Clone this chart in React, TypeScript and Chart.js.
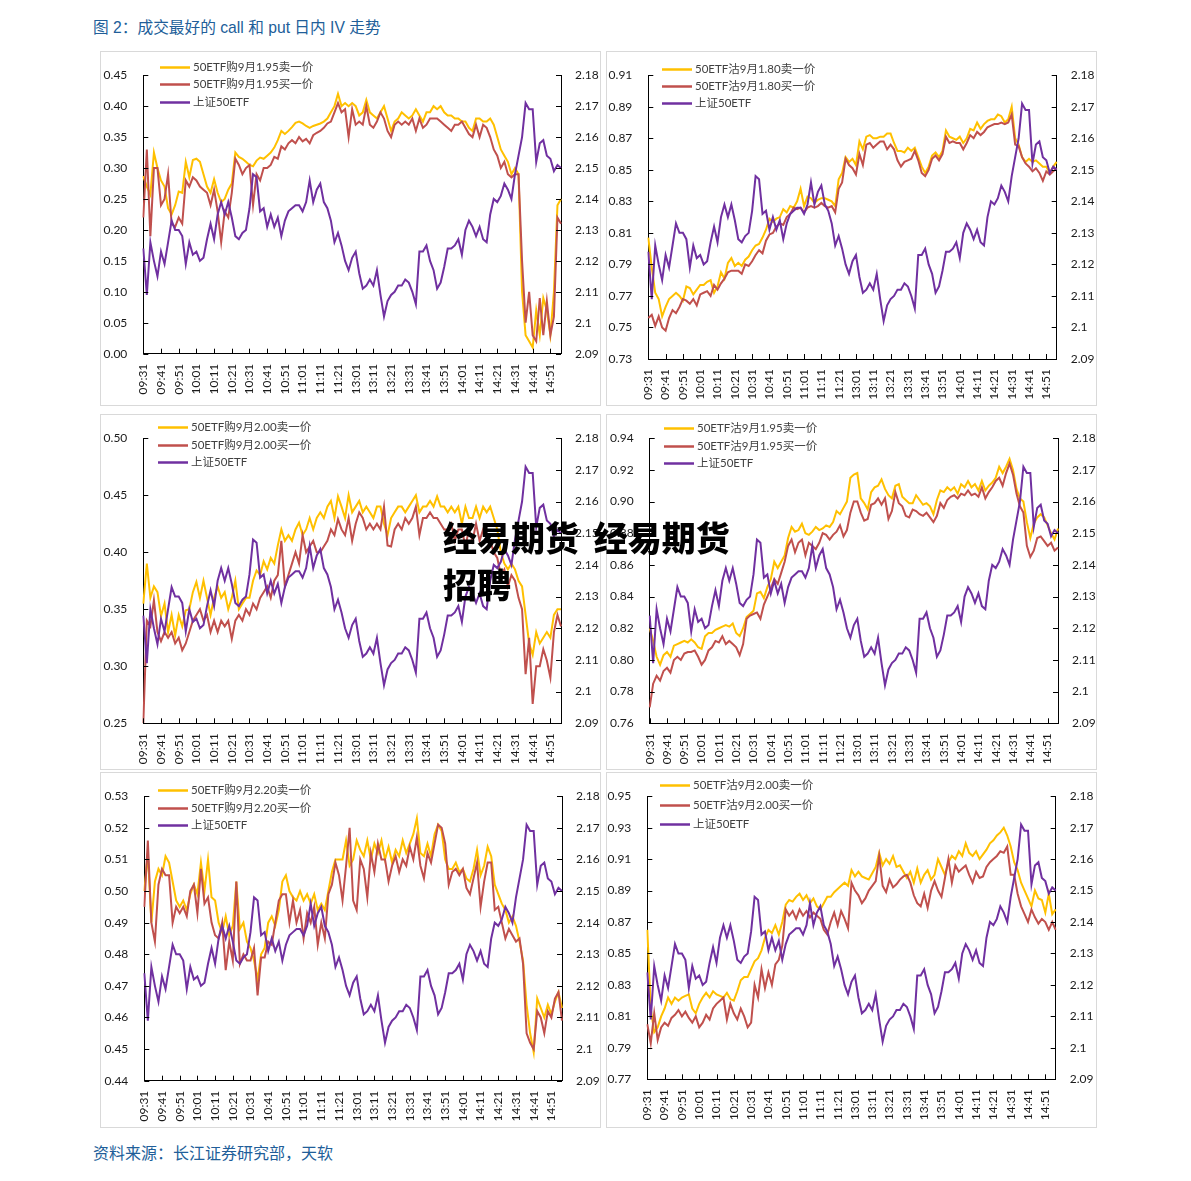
import React, { useEffect, useRef } from "react";
import { Chart, registerables } from "chart.js";
Chart.register(...registerables);

// ---------- data ----------
const tickLabels = ["09:31","09:41","09:51","10:01","10:11","10:21","10:31","10:41","10:51","11:01","11:11","11:21","13:01","13:11","13:21","13:31","13:41","13:51","14:01","14:11","14:21","14:31","14:41","14:51"];

// 上证50ETF, one value per two trading minutes (shared by all panels)
const etf50 = [
  2.124, 2.109, 2.126, 2.120, 2.115, 2.123, 2.119, 2.126, 2.133, 2.130,
  2.130, 2.128, 2.119, 2.126, 2.122, 2.123, 2.120, 2.121, 2.127, 2.132,
  2.127, 2.135, 2.139, 2.135, 2.139, 2.134, 2.128, 2.127, 2.129, 2.130,
  2.137, 2.148, 2.147, 2.136, 2.137, 2.131, 2.135, 2.131, 2.134, 2.128,
  2.133, 2.136, 2.137, 2.138, 2.138, 2.136, 2.139, 2.146, 2.139, 2.143,
  2.145, 2.139, 2.137, 2.133, 2.126, 2.129, 2.125, 2.120, 2.117, 2.121,
  2.123, 2.116, 2.111, 2.112, 2.114, 2.112, 2.117, 2.109, 2.102, 2.107,
  2.109, 2.110, 2.112, 2.112, 2.114, 2.113, 2.110, 2.106, 2.123, 2.123,
  2.125, 2.120, 2.117, 2.111, 2.113, 2.118, 2.124, 2.124, 2.125, 2.127,
  2.122, 2.130, 2.133, 2.131, 2.128, 2.131, 2.127, 2.126, 2.135, 2.140,
  2.139, 2.141, 2.145, 2.143, 2.140, 2.148, 2.154, 2.160, 2.171, 2.169,
  2.169, 2.152, 2.158, 2.159, 2.154, 2.153, 2.149, 2.151, 2.150
];

const p1Sell = [
  0.287, 0.27, 0.257, 0.325, 0.30, 0.28, 0.27, 0.235, 0.225, 0.24,
  0.262, 0.26, 0.31, 0.285, 0.313, 0.315, 0.31, 0.29, 0.27, 0.26,
  0.282, 0.26, 0.245, 0.25, 0.265, 0.275, 0.325, 0.318, 0.315, 0.31,
  0.305, 0.303, 0.312, 0.317, 0.315, 0.32, 0.325, 0.333, 0.345, 0.36,
  0.355, 0.36, 0.366, 0.373, 0.375, 0.372, 0.368, 0.365, 0.368, 0.37,
  0.372, 0.375, 0.38, 0.39, 0.40, 0.42, 0.40, 0.405, 0.40, 0.405,
  0.40, 0.385, 0.39, 0.41, 0.39, 0.385, 0.38, 0.39, 0.40, 0.38,
  0.36, 0.375, 0.38, 0.39, 0.385, 0.38, 0.385, 0.395, 0.385, 0.375,
  0.39, 0.39, 0.40, 0.395, 0.40, 0.39, 0.385, 0.385, 0.38, 0.38,
  0.375, 0.375, 0.365, 0.36, 0.38, 0.38, 0.375, 0.375, 0.38, 0.37,
  0.35, 0.33, 0.32, 0.31, 0.29, 0.30, 0.29, 0.10, 0.03, 0.02,
  0.01, 0.07, 0.03, 0.09, 0.07, 0.03, 0.10, 0.24, 0.25
];
const p1Buy = [
  0.22, 0.33, 0.19, 0.30, 0.30, 0.24, 0.25, 0.29, 0.21, 0.205,
  0.22, 0.21, 0.28, 0.27, 0.285, 0.28, 0.27, 0.265, 0.26, 0.24,
  0.265, 0.23, 0.18, 0.23, 0.22, 0.26, 0.315, 0.305, 0.29, 0.30,
  0.305, 0.24, 0.29, 0.28, 0.30, 0.30, 0.305, 0.318, 0.315, 0.335,
  0.33, 0.34, 0.345, 0.34, 0.35, 0.343, 0.347, 0.34, 0.353, 0.357,
  0.36, 0.365, 0.372, 0.375, 0.39, 0.405, 0.39, 0.395, 0.35, 0.395,
  0.37, 0.375, 0.37, 0.40, 0.37, 0.365, 0.375, 0.39, 0.38, 0.36,
  0.35, 0.37, 0.375, 0.37, 0.375, 0.37, 0.38, 0.36, 0.38, 0.365,
  0.37, 0.38, 0.38, 0.38, 0.375, 0.37, 0.365, 0.36, 0.37, 0.37,
  0.375, 0.365, 0.355, 0.35, 0.37, 0.35, 0.37, 0.365, 0.35, 0.33,
  0.32, 0.30, 0.31, 0.29, 0.285, 0.29, 0.29, 0.15, 0.05, 0.10,
  0.03, 0.02, 0.09, 0.03, 0.085, 0.03, 0.06, 0.22, 0.21
];

const p2Sell = [
  0.807, 0.788, 0.772, 0.768, 0.757, 0.763, 0.768, 0.770, 0.772, 0.770,
  0.767, 0.776, 0.775, 0.771, 0.774, 0.777, 0.777, 0.779, 0.780, 0.772,
  0.776, 0.785, 0.781, 0.791, 0.794, 0.789, 0.791, 0.789, 0.793, 0.795,
  0.799, 0.802, 0.803, 0.807, 0.812, 0.819, 0.817, 0.819, 0.820, 0.825,
  0.823, 0.827, 0.826, 0.830, 0.838, 0.827, 0.833, 0.832, 0.829, 0.831,
  0.832, 0.832, 0.831, 0.830, 0.827, 0.844, 0.848, 0.858, 0.855, 0.857,
  0.853, 0.868, 0.863, 0.871, 0.872, 0.870, 0.870, 0.871, 0.871, 0.873,
  0.873, 0.867, 0.862, 0.862, 0.861, 0.864, 0.862, 0.864, 0.858, 0.852,
  0.848, 0.852, 0.859, 0.861, 0.858, 0.862, 0.875, 0.871, 0.870, 0.869,
  0.871, 0.867, 0.870, 0.876, 0.875, 0.880, 0.876, 0.879, 0.881, 0.882,
  0.882, 0.885, 0.884, 0.880, 0.882, 0.890, 0.870, 0.866, 0.858, 0.855,
  0.857, 0.855, 0.856, 0.854, 0.852, 0.852, 0.848, 0.852, 0.855
];
const p2Buy = [
  0.756, 0.758, 0.751, 0.757, 0.750, 0.748, 0.756, 0.761, 0.759, 0.763,
  0.768, 0.767, 0.765, 0.768, 0.764, 0.771, 0.772, 0.773, 0.770, 0.777,
  0.774, 0.778, 0.781, 0.785, 0.786, 0.786, 0.786, 0.784, 0.790, 0.789,
  0.792, 0.796, 0.799, 0.797, 0.805, 0.809, 0.810, 0.814, 0.816, 0.815,
  0.820, 0.822, 0.826, 0.825, 0.826, 0.823, 0.826, 0.827, 0.826, 0.827,
  0.829, 0.827, 0.826, 0.827, 0.823, 0.838, 0.842, 0.857, 0.853, 0.851,
  0.847, 0.860, 0.853, 0.866, 0.867, 0.864, 0.866, 0.868, 0.868, 0.863,
  0.866, 0.863, 0.856, 0.852, 0.855, 0.856, 0.857, 0.862, 0.856, 0.848,
  0.846, 0.850, 0.857, 0.859, 0.856, 0.860, 0.871, 0.867, 0.868, 0.867,
  0.867, 0.863, 0.867, 0.872, 0.870, 0.874, 0.872, 0.874, 0.877, 0.878,
  0.879, 0.879, 0.880, 0.879, 0.880, 0.885, 0.866, 0.865, 0.858, 0.854,
  0.852, 0.849, 0.851, 0.848, 0.843, 0.849, 0.847, 0.849, 0.851
];

const p3Sell = [
  0.355, 0.39, 0.36, 0.37, 0.365, 0.344, 0.355, 0.33, 0.345, 0.327,
  0.345, 0.335, 0.349, 0.35, 0.365, 0.374, 0.36, 0.375, 0.36, 0.345,
  0.36, 0.37, 0.36, 0.365, 0.35, 0.36, 0.375, 0.35, 0.355, 0.36,
  0.36, 0.375, 0.384, 0.38, 0.392, 0.385, 0.395, 0.39, 0.406, 0.42,
  0.41, 0.415, 0.41, 0.42, 0.426, 0.415, 0.42, 0.43, 0.42, 0.43,
  0.435, 0.43, 0.44, 0.445, 0.43, 0.449, 0.44, 0.43, 0.45, 0.435,
  0.44, 0.445, 0.435, 0.44, 0.435, 0.43, 0.44, 0.44, 0.425, 0.415,
  0.43, 0.435, 0.44, 0.44, 0.435, 0.44, 0.445, 0.45, 0.435, 0.44,
  0.44, 0.445, 0.44, 0.449, 0.44, 0.44, 0.435, 0.44, 0.435, 0.44,
  0.425, 0.44, 0.43, 0.43, 0.44, 0.43, 0.44, 0.435, 0.44, 0.43,
  0.42, 0.40, 0.39, 0.385, 0.39, 0.385, 0.375, 0.37, 0.345, 0.32,
  0.31, 0.33, 0.32, 0.325, 0.33, 0.325, 0.345, 0.35, 0.35
];
const p3Buy = [
  0.25, 0.34, 0.335, 0.358, 0.33, 0.322, 0.33, 0.325, 0.33, 0.32,
  0.325, 0.314, 0.32, 0.33, 0.34, 0.345, 0.35, 0.34, 0.345, 0.33,
  0.34, 0.33, 0.34, 0.335, 0.34, 0.324, 0.34, 0.345, 0.34, 0.35,
  0.345, 0.355, 0.35, 0.36, 0.365, 0.37, 0.36, 0.375, 0.38, 0.41,
  0.37, 0.38, 0.39, 0.40, 0.39, 0.415, 0.40, 0.405, 0.41, 0.40,
  0.40, 0.405, 0.41, 0.42, 0.415, 0.429, 0.42, 0.415, 0.43, 0.41,
  0.425, 0.435, 0.43, 0.42, 0.425, 0.42, 0.425, 0.42, 0.44, 0.406,
  0.405, 0.42, 0.425, 0.42, 0.43, 0.425, 0.43, 0.44, 0.415, 0.43,
  0.43, 0.435, 0.43, 0.43, 0.425, 0.42, 0.42, 0.425, 0.41, 0.42,
  0.42, 0.405, 0.42, 0.41, 0.425, 0.41, 0.42, 0.415, 0.41, 0.40,
  0.395, 0.38, 0.385, 0.37, 0.38, 0.375, 0.36, 0.35, 0.293, 0.325,
  0.267, 0.30, 0.30, 0.315, 0.305, 0.29, 0.33, 0.345, 0.335
];

const p4Sell = [
  0.82, 0.812, 0.802, 0.797, 0.803, 0.805, 0.802, 0.809, 0.81, 0.811,
  0.812, 0.811, 0.813, 0.811, 0.808, 0.807, 0.815, 0.817, 0.817, 0.819,
  0.82, 0.821, 0.822, 0.821, 0.823, 0.817, 0.815, 0.82, 0.827, 0.829,
  0.831, 0.842, 0.843, 0.839, 0.846, 0.851, 0.862, 0.858, 0.862, 0.866,
  0.877, 0.884, 0.881, 0.882, 0.886, 0.88, 0.879, 0.881, 0.884, 0.882,
  0.883, 0.885, 0.884, 0.887, 0.894, 0.892, 0.896, 0.9, 0.915, 0.917,
  0.918, 0.902, 0.899, 0.895, 0.906, 0.909, 0.91, 0.914, 0.908, 0.904,
  0.902, 0.91, 0.911, 0.903, 0.901, 0.899, 0.899, 0.904, 0.901, 0.898,
  0.899, 0.897, 0.892, 0.901, 0.907, 0.906, 0.909, 0.907, 0.909, 0.905,
  0.911, 0.909, 0.913, 0.909, 0.911, 0.907, 0.913, 0.907, 0.91, 0.912,
  0.915, 0.922, 0.918, 0.922, 0.927, 0.92, 0.908, 0.902, 0.9, 0.887,
  0.877, 0.886, 0.89, 0.892, 0.89, 0.885, 0.88, 0.876, 0.883
];
const p4Buy = [
  0.77, 0.785, 0.79, 0.787, 0.793, 0.795, 0.792, 0.80, 0.802, 0.80,
  0.804, 0.805, 0.805, 0.806, 0.802, 0.797, 0.80, 0.806, 0.808, 0.812,
  0.811, 0.815, 0.81, 0.812, 0.81, 0.808, 0.803, 0.81, 0.826, 0.828,
  0.829, 0.83, 0.826, 0.835, 0.84, 0.845, 0.851, 0.848, 0.855, 0.862,
  0.872, 0.876, 0.868, 0.874, 0.876, 0.866, 0.874, 0.872, 0.87, 0.874,
  0.88, 0.879, 0.876, 0.879, 0.881, 0.885, 0.878, 0.882, 0.893, 0.90,
  0.90, 0.893, 0.888, 0.889, 0.898, 0.899, 0.902, 0.898, 0.902, 0.889,
  0.894, 0.906, 0.899, 0.897, 0.891, 0.89, 0.895, 0.894, 0.892, 0.891,
  0.893, 0.89, 0.887, 0.891, 0.899, 0.896, 0.901, 0.903, 0.904, 0.902,
  0.905, 0.904, 0.907, 0.904, 0.905, 0.903, 0.909, 0.902, 0.906, 0.909,
  0.913, 0.915, 0.91, 0.918, 0.924, 0.917, 0.905, 0.897, 0.893, 0.872,
  0.865, 0.869, 0.877, 0.878, 0.875, 0.872, 0.874, 0.869, 0.871
];

const p5Sell = [
  0.50, 0.512, 0.49, 0.503, 0.507, 0.505, 0.511, 0.509, 0.503, 0.497,
  0.495, 0.497, 0.494, 0.499, 0.502, 0.499, 0.509, 0.50, 0.51, 0.498,
  0.497, 0.49, 0.487, 0.492, 0.486, 0.489, 0.503, 0.488, 0.49, 0.484,
  0.482, 0.478, 0.472, 0.48, 0.482, 0.49, 0.492, 0.489, 0.494, 0.503,
  0.505, 0.50, 0.498, 0.497, 0.50, 0.497, 0.499, 0.496, 0.499, 0.494,
  0.496, 0.494, 0.50, 0.506, 0.51, 0.51, 0.51, 0.516, 0.508, 0.51,
  0.516, 0.513, 0.511, 0.516, 0.51, 0.515, 0.512, 0.516, 0.51, 0.514,
  0.509, 0.513, 0.511, 0.516, 0.512, 0.515, 0.518, 0.523, 0.512, 0.511,
  0.515, 0.511, 0.518, 0.521, 0.519, 0.51, 0.507, 0.507, 0.509, 0.506,
  0.507, 0.504, 0.503, 0.507, 0.513, 0.505, 0.508, 0.514, 0.511, 0.502,
  0.499, 0.496, 0.494, 0.49, 0.492, 0.489, 0.484, 0.478, 0.464, 0.455,
  0.449, 0.466, 0.463, 0.46, 0.464, 0.461, 0.465, 0.468, 0.463
];
const p5Buy = [
  0.495, 0.516, 0.49, 0.484, 0.502, 0.507, 0.505, 0.505, 0.49, 0.495,
  0.493, 0.495, 0.492, 0.50, 0.502, 0.493, 0.507, 0.496, 0.498, 0.49,
  0.486, 0.485, 0.49, 0.475, 0.484, 0.478, 0.503, 0.477, 0.48, 0.478,
  0.478, 0.482, 0.467, 0.479, 0.479, 0.484, 0.483, 0.49, 0.497, 0.499,
  0.499, 0.49, 0.497, 0.49, 0.494, 0.485, 0.493, 0.49, 0.495, 0.483,
  0.49, 0.485, 0.499, 0.502, 0.509, 0.505, 0.497, 0.508, 0.52, 0.497,
  0.494, 0.51, 0.507, 0.498, 0.512, 0.506, 0.515, 0.51, 0.51, 0.503,
  0.508, 0.511, 0.506, 0.51, 0.508, 0.514, 0.51, 0.517, 0.508, 0.504,
  0.512, 0.509, 0.515, 0.521, 0.52, 0.515, 0.502, 0.506, 0.507, 0.505,
  0.507, 0.501, 0.499, 0.504, 0.509, 0.495, 0.503, 0.509, 0.509, 0.494,
  0.495, 0.49, 0.485, 0.488, 0.486, 0.484, 0.485, 0.477, 0.455, 0.452,
  0.45, 0.462, 0.46, 0.455, 0.462, 0.46, 0.466, 0.468, 0.459
];

const p6Sell = [
  0.865, 0.815, 0.80, 0.803, 0.81, 0.815, 0.822, 0.818, 0.822, 0.82,
  0.822, 0.823, 0.824, 0.815, 0.812, 0.818, 0.822, 0.825, 0.822, 0.826,
  0.824, 0.823, 0.822, 0.825, 0.821, 0.82, 0.826, 0.833, 0.835, 0.835,
  0.84, 0.845, 0.847, 0.852, 0.86, 0.865, 0.863, 0.868, 0.862, 0.87,
  0.881, 0.884, 0.883, 0.886, 0.888, 0.884, 0.887, 0.882, 0.885, 0.88,
  0.878, 0.882, 0.886, 0.886, 0.889, 0.891, 0.893, 0.895, 0.893, 0.903,
  0.899, 0.902, 0.899, 0.898, 0.897, 0.901, 0.905, 0.914, 0.906, 0.91,
  0.907, 0.912, 0.905, 0.906, 0.902, 0.898, 0.902, 0.895, 0.904, 0.895,
  0.90, 0.903, 0.897, 0.90, 0.91, 0.905, 0.90, 0.908, 0.912, 0.91,
  0.915, 0.912, 0.92, 0.914, 0.912, 0.915, 0.91, 0.913, 0.916, 0.92,
  0.922, 0.925, 0.927, 0.93, 0.925, 0.918, 0.908, 0.903, 0.895, 0.89,
  0.885, 0.88, 0.89, 0.885, 0.884, 0.876, 0.888, 0.875, 0.878
];
const p6Buy = [
  0.805, 0.793, 0.812, 0.795, 0.803, 0.806, 0.804, 0.809, 0.811, 0.814,
  0.81, 0.813, 0.809, 0.806, 0.81, 0.803, 0.806, 0.811, 0.808, 0.815,
  0.818, 0.82, 0.822, 0.808, 0.818, 0.812, 0.808, 0.815, 0.81, 0.803,
  0.806, 0.83, 0.822, 0.84, 0.828, 0.838, 0.83, 0.843, 0.846, 0.855,
  0.878, 0.874, 0.877, 0.872, 0.878, 0.874, 0.877, 0.873, 0.876, 0.874,
  0.872, 0.865, 0.862, 0.87, 0.876, 0.868, 0.877, 0.872, 0.866, 0.895,
  0.89, 0.887, 0.882, 0.885, 0.89, 0.893, 0.896, 0.912, 0.893, 0.889,
  0.897, 0.892, 0.894, 0.897, 0.899, 0.90, 0.895, 0.887, 0.882, 0.88,
  0.888, 0.879, 0.89, 0.896, 0.89, 0.886, 0.898, 0.91, 0.895, 0.906,
  0.902, 0.904, 0.906, 0.90, 0.895, 0.902, 0.898, 0.899, 0.905, 0.908,
  0.91, 0.912, 0.915, 0.914, 0.918, 0.90, 0.90, 0.888, 0.88, 0.875,
  0.87, 0.878, 0.873, 0.869, 0.872, 0.87, 0.865, 0.87, 0.865
];

const sellNames = ["50ETF购9月1.95卖一价", "50ETF沽9月1.80卖一价", "50ETF购9月2.00卖一价", "50ETF沽9月1.95卖一价", "50ETF购9月2.20卖一价", "50ETF沽9月2.00卖一价"];
const buyNames = ["50ETF购9月1.95买一价", "50ETF沽9月1.80买一价", "50ETF购9月2.00买一价", "50ETF沽9月1.95买一价", "50ETF购9月2.20买一价", "50ETF沽9月2.00买一价"];
const etfName = "上证50ETF";
const sellSeries = [p1Sell, p2Sell, p3Sell, p4Sell, p5Sell, p6Sell];
const buySeries = [p1Buy, p2Buy, p3Buy, p4Buy, p5Buy, p6Buy];
const leftMin = [0, 0.73, 0.25, 0.76, 0.44, 0.77];
const leftMax = [0.45, 0.91, 0.5, 0.94, 0.53, 0.95];
const leftStep = [0.05, 0.02, 0.05, 0.02, 0.01, 0.02];
const rightMin = 2.09;
const rightMax = 2.18;
const rightStep = 0.01;

// category slots: one per two minutes, labelled every ten minutes
const slots = etf50.map((_, i) => (i % 5 === 0 ? tickLabels[i / 5] : ""));

// ---------- layout / style ----------
const layouts = [
  { box: [100, 51, 501, 355], plot: [143.3, 60.7, 561, 353.7], legend: [160, 67, 17.3] },
  { box: [606, 51, 491, 355], plot: [648.3, 65.3, 1056.7, 359], legend: [662, 68.7, 17.2] },
  { box: [100, 414, 501, 356], plot: [143.3, 430, 561, 723.3], legend: [158, 427.3, 17.5] },
  { box: [606, 414, 491, 356], plot: [649.7, 430, 1058, 723.3], legend: [664, 428.3, 17.5] },
  { box: [100, 772, 501, 356], plot: [144.3, 787.3, 562, 1080.7], legend: [158, 790, 17.5] },
  { box: [606, 772, 491, 356], plot: [647.3, 785.7, 1055.7, 1079.3], legend: [660, 785, 19.5] },
];
const ORANGE = "#FFC000";
const RED = "#C0504D";
const PURPLE = "#7030A0";
const FONT = "Lato, 'Noto Sans CJK SC', sans-serif";

const innerTicks = {
  id: "innerTicks",
  afterDatasetsDraw(chart: any) {
    const ctx = chart.ctx;
    const { left, right, bottom } = chart.chartArea;
    ctx.save();
    ctx.strokeStyle = "#000";
    ctx.lineWidth = 1;
    ctx.beginPath();
    const yl = chart.scales.yL;
    yl.ticks.forEach((t: any) => {
      const y = Math.round(yl.getPixelForValue(t.value)) + 0.5;
      ctx.moveTo(left, y);
      ctx.lineTo(left + 5, y);
    });
    const yr = chart.scales.yR;
    yr.ticks.forEach((t: any) => {
      const y = Math.round(yr.getPixelForValue(t.value)) + 0.5;
      ctx.moveTo(right - 5, y);
      ctx.lineTo(right, y);
    });
    const xs = chart.scales.x;
    slots.forEach((s, i) => {
      if (!s) return;
      const x = Math.round(xs.getPixelForValue(i)) + 0.5;
      ctx.moveTo(x, bottom);
      ctx.lineTo(x, bottom - 5);
    });
    ctx.stroke();
    ctx.restore();
  },
};

const panelLegend = {
  id: "panelLegend",
  afterDraw(chart: any, _args: any, opts: any) {
    const ctx = chart.ctx;
    ctx.save();
    ctx.font = `11.5px ${FONT}`;
    ctx.textBaseline = "middle";
    chart.data.datasets.forEach((ds: any, i: number) => {
      const y = Math.round(opts.y + i * opts.gap) + 0.5;
      ctx.strokeStyle = ds.borderColor;
      ctx.lineWidth = 2.5;
      ctx.beginPath();
      ctx.moveTo(opts.x, y);
      ctx.lineTo(opts.x + 30, y);
      ctx.stroke();
      ctx.fillStyle = "#404040";
      ctx.fillText(ds.label, opts.x + 33, y);
    });
    ctx.restore();
  },
};

function Panel({ idx }: { idx: number }) {
  const ref = useRef<HTMLCanvasElement>(null);
  const lay = layouts[idx];
  const [bx, by, bw, bh] = lay.box;
  const W = bw - 2;
  const H = bh - 2;
  useEffect(() => {
    const cx = bx + 1;
    const cy = by + 1;
    const [pl, pt, pr, pb] = lay.plot;
    const L = pl - cx;
    const R = cx + W - pr;
    const T = pt - cy;
    const B = cy + H - pb;
    const tickFont = { family: FONT, size: 12 };
    const noGrid = { display: false, drawTicks: false, tickLength: 0 };
    const chart = new Chart(ref.current as HTMLCanvasElement, {
      type: "line",
      data: {
        labels: slots,
        datasets: [
          { label: sellNames[idx], data: sellSeries[idx], borderColor: ORANGE, yAxisID: "yL", order: 3 },
          { label: buyNames[idx], data: buySeries[idx], borderColor: RED, yAxisID: "yL", order: 2 },
          { label: etfName, data: etf50, borderColor: PURPLE, yAxisID: "yR", order: 1 },
        ],
      },
      options: {
        animation: false,
        responsive: false,
        devicePixelRatio: 1,
        layout: { padding: { top: T, left: 0, right: 0, bottom: 0 } },
        elements: {
          point: { radius: 0 },
          line: { borderWidth: 2, tension: 0, fill: false },
        },
        plugins: {
          legend: { display: false },
          tooltip: { enabled: false },
          panelLegend: { x: lay.legend[0] - cx, y: lay.legend[1] - cy, gap: lay.legend[2] },
        } as any,
        scales: {
          x: {
            type: "category",
            offset: false,
            grid: noGrid,
            border: { display: true, color: "#000", width: 1 },
            ticks: { autoSkip: false, maxRotation: 90, minRotation: 90, padding: 10, font: tickFont, color: "#1a1a1a" },
            afterFit: (s: any) => { s.height = B; },
          },
          yL: {
            type: "linear",
            position: "left",
            min: leftMin[idx],
            max: leftMax[idx],
            grid: noGrid,
            border: { display: true, color: "#000", width: 1 },
            ticks: {
              stepSize: leftStep[idx],
              padding: 16,
              font: tickFont,
              color: "#1a1a1a",
              callback: (v: any) => Number(v).toFixed(2),
            },
            afterFit: (s: any) => { s.width = L; },
          },
          yR: {
            type: "linear",
            position: "right",
            min: rightMin,
            max: rightMax,
            grid: noGrid,
            border: { display: true, color: "#000", width: 1 },
            ticks: {
              stepSize: rightStep,
              padding: 14,
              font: tickFont,
              color: "#1a1a1a",
              callback: (v: any) => String(parseFloat(Number(v).toFixed(2))),
            },
            afterFit: (s: any) => { s.width = R; },
          },
        },
      } as any,
      plugins: [innerTicks, panelLegend],
    });
    return () => chart.destroy();
  }, []);
  return (
    <div
      style={{
        position: "absolute",
        left: bx,
        top: by,
        width: bw,
        height: bh,
        boxSizing: "border-box",
        border: "1px solid #d9d9d9",
        background: "#fff",
      }}
    >
      <canvas ref={ref} width={W} height={H} style={{ display: "block", width: W, height: H }} />
    </div>
  );
}

export default function App() {
  return (
    <div style={{ position: "absolute", left: 0, top: 0, width: 1191, height: 1181, background: "#fff", overflow: "hidden" }}>
      <div
        style={{
          position: "absolute",
          left: 93,
          top: 19,
          fontSize: 15.7,
          lineHeight: "18px",
          color: "#215E99",
          fontFamily: "'Liberation Sans', 'Noto Sans CJK SC', sans-serif",
          whiteSpace: "nowrap",
        }}
      >
        图 2：成交最好的 call 和 put 日内 IV 走势
      </div>
      {layouts.map((_, i) => (
        <Panel key={i} idx={i} />
      ))}
      <div
        style={{
          position: "absolute",
          left: 93,
          top: 1142,
          fontSize: 16,
          lineHeight: "20px",
          color: "#215E99",
          fontFamily: "'Noto Sans CJK SC', sans-serif",
          whiteSpace: "nowrap",
        }}
      >
        资料来源：长江证券研究部，天软
      </div>
      <div
        style={{
          position: "absolute",
          left: 443,
          top: 513,
          fontSize: 34,
          lineHeight: "47px",
          fontWeight: 900,
          color: "#000",
          fontFamily: "'Noto Sans CJK SC', sans-serif",
          whiteSpace: "pre",
          wordSpacing: 7,
        }}
      >
        {"经易期货 经易期货\n招聘"}
      </div>
    </div>
  );
}
